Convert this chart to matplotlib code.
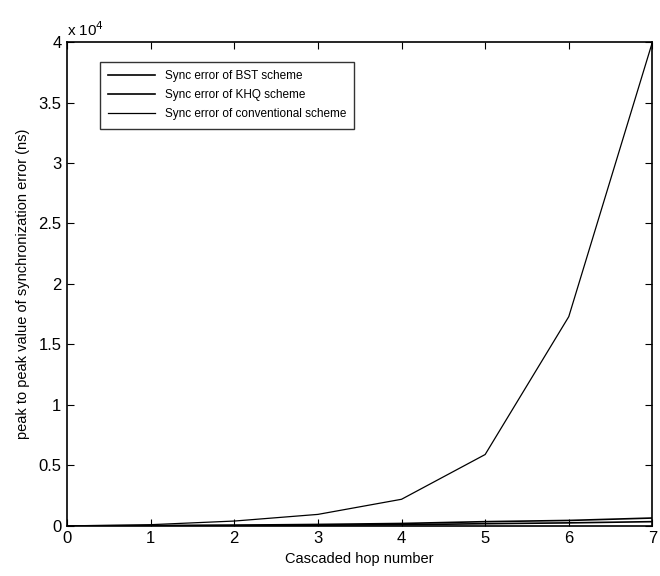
import numpy as np
import matplotlib.pyplot as plt

plt.rcParams['font.family'] = ['Liberation Sans', 'DejaVu Sans']

hops = [0, 1, 2, 3, 4, 5, 6, 7]
bst_err = [0, 10, 30, 60, 100, 180, 250, 350]
khq_err = [0, 20, 60, 120, 200, 350, 450, 650]
conv_err = [0, 100, 400, 950, 2200, 5900, 17300, 40000]

labels = ['Sync error of BST scheme',
          'Sync error of KHQ scheme',
          'Sync error of conventional scheme']

fig = plt.figure(figsize=(6.6, 5.76), dpi=100)
ax = fig.add_axes([0.1015, 0.087, 0.887, 0.840])

ax.plot(hops, bst_err, color='black', lw=1.2, label=labels[0])
ax.plot(hops, khq_err, color='black', lw=1.2, label=labels[1])
ax.plot(hops, conv_err, color='black', lw=0.9, label=labels[2])

ax.set_xlim(0, 7)
ax.set_ylim(0, 40000)
ax.set_xticks(range(8))
ax.set_yticks(np.arange(0, 40001, 5000))
ax.set_yticklabels(['0', '0.5', '1', '1.5', '2', '2.5', '3', '3.5', '4'])
ax.tick_params(direction='in', top=True, right=True, labelsize=12, length=5, pad=4)
ax.text(0.0, 1.012, r'x 10$^4$', transform=ax.transAxes, fontsize=11)

ax.set_xlabel('Cascaded hop number', fontsize=10.5, labelpad=4)
ax.set_ylabel('peak to peak value of synchronization error (ns)', fontsize=10.5, labelpad=6)

for s in ax.spines.values():
    s.set_linewidth(1.2)

leg = ax.legend(loc='upper left', bbox_to_anchor=(0.056, 0.959), fontsize=8.5,
                frameon=True, fancybox=False, edgecolor='black',
                handlelength=4.0, borderpad=0.7, labelspacing=0.6, borderaxespad=0)
leg.get_frame().set_linewidth(1.0)

fig.savefig('out.png', dpi=100)
